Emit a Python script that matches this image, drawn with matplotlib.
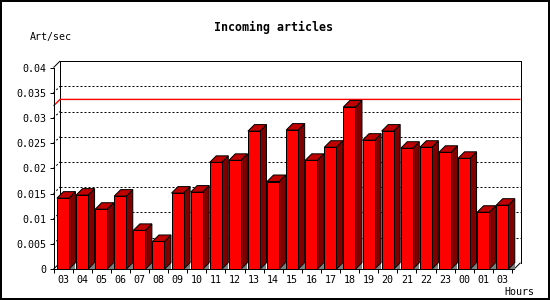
import matplotlib
matplotlib.use('Agg')
import matplotlib.pyplot as plt
from matplotlib.patches import Polygon, Rectangle

hours = ['03', '04', '05', '06', '07', '08', '09', '10', '11', '12', '13', '14',
         '15', '16', '17', '18', '19', '20', '21', '22', '23', '00', '01', '03']
rate = [0.0141, 0.0147, 0.0119, 0.0145, 0.0077, 0.0055, 0.0151, 0.0153,
        0.0212, 0.0216, 0.0274, 0.0174, 0.0276, 0.0216, 0.0242, 0.0322,
        0.0256, 0.0274, 0.0240, 0.0242, 0.0232, 0.0220, 0.0113, 0.0127]
peak_rate = 0.0324
y_ticks = [0, 0.005, 0.01, 0.015, 0.02, 0.025, 0.03, 0.035, 0.04]
y_labels = ['0', '0.005', '0.01', '0.015', '0.02', '0.025', '0.03', '0.035', '0.04']

W, H, DPI = 550, 300, 100
PX = 72.0 / DPI  # one pixel in points
MONO = 'DejaVu Sans Mono'

fig = plt.figure(figsize=(W / DPI, H / DPI), dpi=DPI)
fig.patch.set_facecolor('white')

# front plane of the plot, in pixels of the picture
left, bottom, width, height = 53.5, 269.2, 460.5, 201.6
ax = fig.add_axes([left / W, (H - bottom) / H, width / W, height / H])
xmax = width / 19.1
ax.set_xlim(0, xmax)
ax.set_ylim(0, 0.04)
ax.set_autoscale_on(False)
ax.patch.set_alpha(0)

# 3d depth, converted to data units
depth = 6.5
dx = depth * xmax / width
dy = depth * 0.04 / height


def seg(xs, ys, z=1, **kw):
    style = dict(color='black', lw=PX, clip_on=False, solid_capstyle='butt', zorder=z)
    style.update(kw)
    ax.plot(xs, ys, **style)


# back wall and floor edges
seg([dx, dx], [dy, 0.04 + dy], snap=True, antialiased=False)
seg([dx, xmax + dx], [0.04 + dy, 0.04 + dy], snap=True, antialiased=False)
seg([xmax + dx, xmax + dx], [dy, 0.04 + dy], snap=True, antialiased=False)
seg([0, dx], [0.04, 0.04 + dy])
seg([0, dx], [0, dy])
seg([xmax, xmax + dx], [0, dy])

# dotted grid on the back wall
for v in y_ticks[1:-1]:
    seg([dx, xmax + dx], [v + dy, v + dy], linestyle=(0, (2, 2)), dash_capstyle='butt', snap=True)
    seg([0, dx], [v, v + dy], linestyle=(0, (2, 2)), dash_capstyle='butt')

# peak line
seg([0, dx, xmax + dx], [peak_rate, peak_rate + dy, peak_rate + dy], z=1.5,
    color='#ff0000', lw=1.4 * PX)

# bars
bw = 0.63
for i, v in enumerate(rate):
    x0 = i + 0.18
    x1 = x0 + bw
    floor = Polygon([(x1, 0), (x1 + dx, 0), (x1 + dx, dy)], closed=True,
                    fc='#808080', ec='none', clip_on=False, zorder=2)
    side = Polygon([(x1, 0), (x1 + dx, dy), (x1 + dx, v + dy), (x1, v)], closed=True,
                   fc='#800000', ec='black', lw=PX, clip_on=False, zorder=3)
    top = Polygon([(x0, v), (x1, v), (x1 + dx, v + dy), (x0 + dx, v + dy)], closed=True,
                  fc='#c00000', ec='black', lw=PX, clip_on=False, zorder=3)
    front = Rectangle((x0, 0), bw, v, fc='#ff0000', ec='black', lw=PX,
                      clip_on=False, zorder=4, snap=True)
    for p in (floor, side, top, front):
        ax.add_patch(p)

# axes
for s in ('top', 'right'):
    ax.spines[s].set_visible(False)
for s in ('left', 'bottom'):
    ax.spines[s].set_linewidth(PX)
    ax.spines[s].set_zorder(5)

ax.set_yticks(y_ticks)
ax.set_yticklabels(y_labels, fontfamily=MONO, fontsize=7.2)
ax.tick_params(axis='y', direction='out', length=4 * PX, width=PX, pad=3.5 * PX)

ax.set_xticks(range(len(hours) + 1))
ax.set_xticklabels([])
ax.set_xticks([i + 0.5 for i in range(len(hours))], minor=True)
ax.set_xticklabels(hours, minor=True, fontfamily=MONO, fontsize=7.2)
ax.tick_params(axis='x', which='major', direction='out', length=4 * PX, width=PX)
ax.tick_params(axis='x', which='minor', length=0, pad=5.5 * PX)

fig.text(274 / W, 1 - 27 / H, 'Incoming articles', ha='center', va='center',
         fontfamily=MONO, fontweight='bold', fontsize=8.4)
fig.text(30 / W, 1 - 37 / H, 'Art/sec', ha='left', va='center', fontfamily=MONO, fontsize=7.2)
fig.text(534 / W, 1 - 292 / H, 'Hours', ha='right', va='center', fontfamily=MONO, fontsize=7.2)

# outer border
fig.patches.append(Rectangle((0, 0), 1, 1, transform=fig.transFigure, fill=False,
                             ec='black', lw=4 * PX, zorder=10))

fig.savefig('out.png', dpi=DPI)
